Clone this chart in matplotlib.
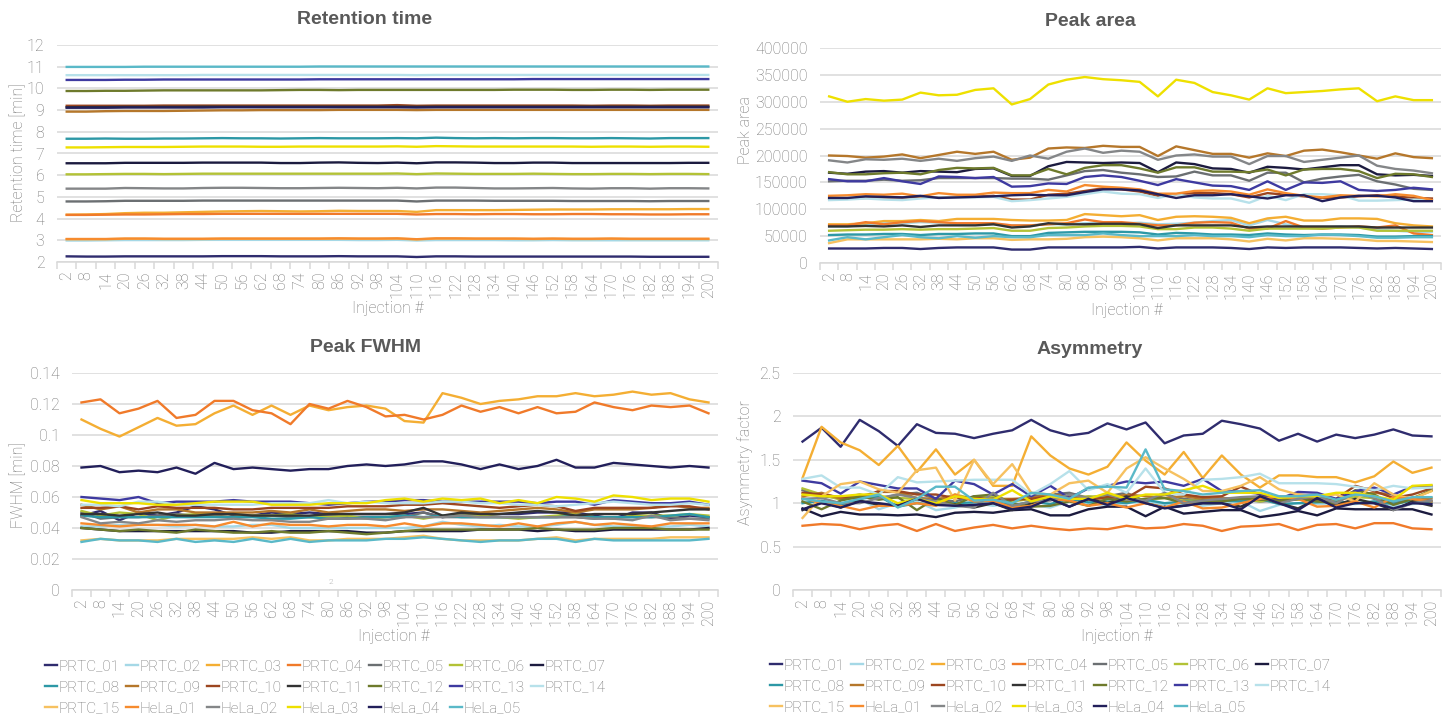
import matplotlib
matplotlib.use('Agg')
import matplotlib.pyplot as plt
from matplotlib.ticker import FuncFormatter, MultipleLocator

plt.rcParams['font.family'] = ['Roboto', 'Liberation Sans', 'DejaVu Sans']
plt.rcParams['font.weight'] = 'light'

injections = [2, 8, 14, 20, 26, 32, 38, 44, 50, 56, 62, 68, 74, 80, 86, 92, 98,
              104, 110, 116, 122, 128, 134, 140, 146, 152, 158, 164, 170, 176,
              182, 188, 194, 200]

names = ['PRTC_01', 'PRTC_02', 'PRTC_03', 'PRTC_04', 'PRTC_05', 'PRTC_06',
         'PRTC_07', 'PRTC_08', 'PRTC_09', 'PRTC_10', 'PRTC_11', 'PRTC_12',
         'PRTC_13', 'PRTC_14', 'PRTC_15', 'HeLa_01', 'HeLa_02', 'HeLa_03',
         'HeLa_04', 'HeLa_05']

colors = ['#2F2C6E', '#A5D8E6', '#F4AE33', '#F07A2A', '#6B6F72', '#B3C236',
          '#1C1B3F', '#2D98A6', '#B5772B', '#9C4620', '#333333', '#6E7A2C',
          '#3E3AA0', '#B7E1EA', '#F6C160', '#F68B2E', '#848688', '#EEE000',
          '#221F5A', '#5AB9C8']

# retention time [min]
rt = {
    'PRTC_01': [2.26, 2.25, 2.25, 2.26, 2.26, 2.26, 2.26, 2.26, 2.27, 2.27, 2.27, 2.26, 2.26, 2.26, 2.27, 2.26, 2.26,
                2.26, 2.23, 2.26, 2.26, 2.25, 2.25, 2.25, 2.25, 2.25, 2.25, 2.25, 2.25, 2.25, 2.24, 2.24, 2.24, 2.24],
    'PRTC_02': [2.99, 2.99, 3.00, 3.01, 3.01, 3.01, 3.01, 3.02, 3.02, 3.02, 3.02, 3.02, 3.02, 3.02, 3.02, 3.01, 3.01,
                3.02, 2.99, 3.01, 3.01, 3.01, 3.01, 3.00, 3.00, 3.01, 3.00, 3.00, 3.00, 3.00, 3.00, 3.00, 3.00, 3.00],
    'PRTC_03': [4.18, 4.19, 4.21, 4.25, 4.27, 4.27, 4.29, 4.31, 4.33, 4.34, 4.35, 4.34, 4.33, 4.34, 4.36, 4.35, 4.35,
                4.35, 4.31, 4.39, 4.39, 4.39, 4.39, 4.40, 4.41, 4.42, 4.42, 4.42, 4.43, 4.43, 4.43, 4.43, 4.44, 4.44],
    'PRTC_04': [4.17, 4.17, 4.18, 4.19, 4.19, 4.20, 4.21, 4.21, 4.22, 4.22, 4.22, 4.22, 4.22, 4.22, 4.22, 4.22, 4.22,
                4.22, 4.19, 4.21, 4.21, 4.20, 4.21, 4.21, 4.20, 4.20, 4.21, 4.21, 4.20, 4.20, 4.19, 4.19, 4.20, 4.20],
    'PRTC_05': [4.79, 4.79, 4.80, 4.82, 4.82, 4.82, 4.82, 4.83, 4.83, 4.83, 4.83, 4.83, 4.83, 4.83, 4.83, 4.83, 4.83,
                4.83, 4.79, 4.83, 4.83, 4.83, 4.82, 4.82, 4.82, 4.82, 4.81, 4.81, 4.81, 4.81, 4.80, 4.81, 4.81, 4.81],
    'PRTC_06': [6.04, 6.04, 6.05, 6.06, 6.06, 6.05, 6.06, 6.07, 6.07, 6.07, 6.07, 6.07, 6.07, 6.07, 6.07, 6.07, 6.07,
                6.08, 6.05, 6.08, 6.07, 6.06, 6.06, 6.06, 6.07, 6.06, 6.05, 6.05, 6.06, 6.06, 6.05, 6.06, 6.06, 6.05],
    'PRTC_07': [6.55, 6.55, 6.55, 6.57, 6.57, 6.57, 6.57, 6.58, 6.58, 6.58, 6.58, 6.56, 6.56, 6.58, 6.59, 6.57, 6.56,
                6.58, 6.55, 6.59, 6.59, 6.58, 6.56, 6.56, 6.58, 6.58, 6.56, 6.56, 6.56, 6.56, 6.56, 6.56, 6.57, 6.57],
    'PRTC_08': [7.68, 7.68, 7.69, 7.68, 7.68, 7.69, 7.69, 7.70, 7.71, 7.70, 7.70, 7.69, 7.70, 7.71, 7.70, 7.70, 7.70,
                7.71, 7.70, 7.73, 7.71, 7.70, 7.71, 7.70, 7.71, 7.71, 7.70, 7.70, 7.71, 7.70, 7.69, 7.71, 7.71, 7.71],
    'PRTC_09': [8.93, 8.93, 8.95, 8.96, 8.96, 8.96, 8.97, 8.98, 8.99, 8.99, 9.00, 9.00, 9.00, 9.00, 9.01, 9.01, 9.01,
                9.01, 9.00, 9.01, 9.01, 9.01, 9.01, 9.01, 9.01, 9.01, 9.01, 9.01, 9.01, 9.01, 9.01, 9.01, 9.01, 9.01],
    'PRTC_10': [9.20, 9.20, 9.20, 9.20, 9.20, 9.21, 9.21, 9.21, 9.21, 9.21, 9.21, 9.21, 9.21, 9.21, 9.21, 9.21, 9.21,
                9.23, 9.20, 9.21, 9.21, 9.21, 9.21, 9.21, 9.21, 9.21, 9.21, 9.20, 9.21, 9.21, 9.20, 9.21, 9.21, 9.21],
    'PRTC_11': [9.13, 9.14, 9.14, 9.15, 9.15, 9.15, 9.15, 9.16, 9.16, 9.16, 9.16, 9.16, 9.16, 9.16, 9.16, 9.16, 9.16,
                9.16, 9.15, 9.16, 9.16, 9.16, 9.16, 9.16, 9.16, 9.16, 9.16, 9.16, 9.16, 9.16, 9.16, 9.16, 9.16, 9.16],
    'PRTC_12': [9.88, 9.88, 9.89, 9.89, 9.90, 9.91, 9.91, 9.91, 9.91, 9.91, 9.91, 9.92, 9.93, 9.93, 9.92, 9.93, 9.93,
                9.93, 9.93, 9.93, 9.93, 9.93, 9.93, 9.94, 9.94, 9.94, 9.93, 9.93, 9.94, 9.94, 9.93, 9.94, 9.94, 9.94],
    'PRTC_13': [10.39, 10.39, 10.39, 10.40, 10.40, 10.41, 10.41, 10.41, 10.41, 10.41, 10.41, 10.41, 10.41, 10.42,
                10.42, 10.42, 10.42, 10.42, 10.42, 10.42, 10.42, 10.42, 10.42, 10.42, 10.43, 10.43, 10.43, 10.43,
                10.43, 10.43, 10.43, 10.43, 10.43, 10.43],
    'PRTC_14': [10.61, 10.61, 10.61, 10.61, 10.61, 10.61, 10.61, 10.62, 10.62, 10.62, 10.62, 10.62, 10.62, 10.62,
                10.62, 10.62, 10.62, 10.62, 10.61, 10.62, 10.62, 10.62, 10.62, 10.62, 10.62, 10.62, 10.62, 10.62,
                10.62, 10.62, 10.62, 10.62, 10.62, 10.62],
    'PRTC_15': [3.05, 3.05, 3.05, 3.07, 3.07, 3.06, 3.06, 3.06, 3.07, 3.07, 3.07, 3.07, 3.07, 3.07, 3.08, 3.07, 3.07,
                3.08, 3.04, 3.08, 3.08, 3.07, 3.07, 3.07, 3.06, 3.07, 3.06, 3.06, 3.07, 3.06, 3.06, 3.06, 3.06, 3.06],
    'HeLa_01': [3.06, 3.06, 3.06, 3.08, 3.08, 3.07, 3.07, 3.07, 3.08, 3.08, 3.08, 3.08, 3.08, 3.08, 3.09, 3.08, 3.08,
                3.09, 3.05, 3.09, 3.09, 3.08, 3.08, 3.08, 3.07, 3.08, 3.07, 3.07, 3.08, 3.07, 3.07, 3.07, 3.07, 3.07],
    'HeLa_02': [5.38, 5.38, 5.38, 5.41, 5.40, 5.39, 5.39, 5.41, 5.42, 5.42, 5.41, 5.40, 5.40, 5.41, 5.42, 5.41, 5.40,
                5.42, 5.39, 5.43, 5.43, 5.41, 5.39, 5.39, 5.40, 5.41, 5.39, 5.38, 5.40, 5.40, 5.38, 5.40, 5.40, 5.39],
    'HeLa_03': [7.28, 7.28, 7.29, 7.30, 7.30, 7.30, 7.31, 7.32, 7.32, 7.32, 7.31, 7.31, 7.32, 7.32, 7.32, 7.32, 7.32,
                7.33, 7.31, 7.34, 7.33, 7.32, 7.32, 7.32, 7.32, 7.32, 7.32, 7.31, 7.32, 7.32, 7.31, 7.32, 7.32, 7.31],
    'HeLa_04': [9.11, 9.11, 9.11, 9.12, 9.12, 9.12, 9.12, 9.12, 9.13, 9.13, 9.13, 9.13, 9.13, 9.13, 9.13, 9.13, 9.13,
                9.13, 9.12, 9.13, 9.13, 9.13, 9.13, 9.13, 9.13, 9.13, 9.13, 9.13, 9.13, 9.13, 9.13, 9.13, 9.13, 9.13],
    'HeLa_05': [10.99, 10.99, 10.99, 10.99, 11.00, 11.00, 11.00, 11.00, 11.00, 11.00, 11.00, 11.00, 11.00, 11.01,
                11.01, 11.01, 11.01, 11.01, 11.01, 11.01, 11.01, 11.01, 11.01, 11.01, 11.01, 11.01, 11.01, 11.01,
                11.01, 11.01, 11.01, 11.01, 11.01, 11.01],
}

# peak area
area = {
    'PRTC_01': [27000, 27000, 27000, 28000, 28000, 26000, 28000, 29000, 29000, 29000, 25000, 25000, 29000, 29000,
                29000, 29000, 29000, 30000, 27000, 29000, 29000, 29000, 28000, 26000, 29000, 28000, 29000, 29000,
                29000, 28000, 27000, 28000, 27000, 26000],
    'PRTC_02': [68000, 68000, 72000, 74000, 74000, 76000, 75000, 72000, 72000, 72000, 70000, 70000, 72000, 72000,
                74000, 74000, 74000, 75000, 72000, 73000, 75000, 78000, 80000, 70000, 80000, 72000, 66000, 66000,
                68000, 66000, 62000, 60000, 58000, 58000],
    'PRTC_03': [72000, 72000, 74000, 78000, 78000, 80000, 78000, 82000, 82000, 82000, 80000, 79000, 79000, 80000,
                91000, 89000, 87000, 89000, 80000, 86000, 87000, 86000, 84000, 74000, 83000, 86000, 79000, 79000,
                83000, 83000, 82000, 74000, 70000, 68000],
    'PRTC_04': [70000, 70000, 76000, 72000, 76000, 78000, 76000, 74000, 74000, 74000, 70000, 70000, 72000, 74000,
                81000, 76000, 76000, 73000, 70000, 70000, 75000, 76000, 75000, 64000, 64000, 78000, 66000, 64000,
                66000, 68000, 66000, 70000, 55000, 52000],
    'PRTC_05': [152000, 153000, 153000, 155000, 153000, 154000, 158000, 158000, 158000, 158000, 157000, 157000,
                155000, 163000, 171000, 173000, 168000, 165000, 160000, 161000, 170000, 163000, 163000, 153000,
                168000, 168000, 150000, 157000, 161000, 164000, 152000, 146000, 138000, 136000],
    'PRTC_06': [60000, 61000, 62000, 62000, 63000, 62000, 63000, 63000, 64000, 65000, 60000, 60000, 65000, 66000,
                68000, 69000, 69000, 68000, 63000, 63000, 66000, 66000, 64000, 60000, 64000, 64000, 64000, 64000,
                66000, 66000, 60000, 60000, 60000, 60000],
    'PRTC_07': [168000, 166000, 170000, 171000, 168000, 171000, 170000, 169000, 175000, 176000, 162000, 162000,
                180000, 188000, 187000, 186000, 187000, 186000, 169000, 187000, 184000, 176000, 175000, 168000,
                179000, 177000, 174000, 178000, 182000, 182000, 165000, 163000, 164000, 162000],
    'PRTC_08': [52000, 53000, 53000, 54000, 54000, 52000, 54000, 54000, 55000, 55000, 50000, 50000, 56000, 57000,
                58000, 58000, 58000, 57000, 53000, 56000, 55000, 53000, 53000, 52000, 55000, 53000, 52000, 53000,
                53000, 52000, 49000, 49000, 50000, 50000],
    'PRTC_09': [200000, 199000, 196000, 198000, 202000, 195000, 201000, 207000, 203000, 207000, 192000, 196000,
                213000, 215000, 214000, 218000, 216000, 216000, 199000, 217000, 210000, 203000, 203000, 196000,
                204000, 199000, 209000, 211000, 206000, 200000, 194000, 204000, 197000, 195000],
    'PRTC_10': [120000, 120000, 121000, 122000, 122000, 122000, 122000, 123000, 123000, 125000, 118000, 118000,
                127000, 129000, 134000, 139000, 137000, 133000, 125000, 128000, 130000, 130000, 128000, 122000,
                130000, 127000, 124000, 121000, 122000, 124000, 126000, 124000, 121000, 120000],
    'PRTC_11': [68000, 68000, 69000, 68000, 70000, 67000, 70000, 70000, 70000, 72000, 66000, 68000, 74000, 72000,
                72000, 73000, 73000, 72000, 65000, 70000, 70000, 70000, 70000, 66000, 68000, 68000, 68000, 68000,
                68000, 68000, 66000, 66000, 66000, 66000],
    'PRTC_12': [169000, 165000, 165000, 167000, 168000, 165000, 173000, 177000, 176000, 177000, 163000, 163000,
                175000, 165000, 177000, 182000, 182000, 176000, 168000, 178000, 178000, 170000, 170000, 169000,
                174000, 163000, 174000, 175000, 175000, 171000, 158000, 166000, 165000, 160000],
    'PRTC_13': [156000, 152000, 152000, 158000, 152000, 147000, 161000, 160000, 158000, 160000, 142000, 143000,
                148000, 147000, 160000, 163000, 160000, 153000, 145000, 156000, 150000, 144000, 143000, 136000,
                152000, 136000, 150000, 149000, 152000, 136000, 134000, 136000, 140000, 137000],
    'PRTC_14': [117000, 118000, 120000, 118000, 117000, 120000, 122000, 122000, 122000, 123000, 115000, 117000,
                120000, 123000, 128000, 133000, 129000, 128000, 121000, 128000, 122000, 120000, 120000, 112000,
                125000, 117000, 128000, 128000, 126000, 116000, 116000, 117000, 118000, 117000],
    'PRTC_15': [37000, 44000, 44000, 44000, 44000, 44000, 45000, 44000, 46000, 46000, 43000, 44000, 44000, 45000,
                48000, 49000, 48000, 46000, 42000, 46000, 46000, 46000, 44000, 40000, 45000, 42000, 46000, 46000,
                45000, 44000, 41000, 41000, 40000, 39000],
    'HeLa_01': [125000, 126000, 128000, 127000, 129000, 124000, 130000, 127000, 127000, 131000, 130000, 130000,
                136000, 133000, 145000, 142000, 140000, 137000, 129000, 129000, 134000, 135000, 133000, 127000,
                137000, 130000, 125000, 122000, 126000, 125000, 124000, 128000, 125000, 117000],
    'HeLa_02': [191000, 187000, 193000, 192000, 194000, 190000, 194000, 190000, 195000, 198000, 190000, 200000,
                194000, 207000, 213000, 205000, 209000, 207000, 192000, 200000, 202000, 198000, 198000, 184000,
                199000, 199000, 188000, 192000, 196000, 200000, 181000, 175000, 172000, 167000],
    'HeLa_03': [310000, 300000, 305000, 302000, 304000, 317000, 312000, 313000, 322000, 325000, 295000, 305000,
                332000, 341000, 346000, 342000, 340000, 337000, 310000, 341000, 335000, 318000, 312000, 304000,
                325000, 316000, 318000, 320000, 323000, 325000, 301000, 310000, 303000, 303000],
    'HeLa_04': [121000, 121000, 124000, 123000, 122000, 125000, 121000, 122000, 123000, 124000, 126000, 127000,
                126000, 126000, 132000, 137000, 137000, 135000, 128000, 121000, 126000, 126000, 128000, 124000,
                120000, 126000, 126000, 115000, 122000, 125000, 125000, 122000, 115000, 115000],
    'HeLa_05': [42000, 48000, 44000, 48000, 52000, 48000, 46000, 50000, 47000, 50000, 48000, 48000, 52000, 52000,
                52000, 55000, 52000, 50000, 50000, 50000, 52000, 50000, 50000, 48000, 52000, 50000, 50000, 53000,
                52000, 50000, 47000, 47000, 48000, 48000],
}

# peak FWHM [min]
fwhm = {
    'PRTC_01': [0.048, 0.051, 0.045, 0.050, 0.048, 0.050, 0.054, 0.052, 0.048, 0.048, 0.050, 0.049, 0.050, 0.049,
                0.049, 0.049, 0.049, 0.049, 0.050, 0.047, 0.049, 0.048, 0.049, 0.049, 0.050, 0.050, 0.050, 0.048,
                0.046, 0.050, 0.050, 0.046, 0.048, 0.047],
    'PRTC_02': [0.041, 0.041, 0.042, 0.042, 0.042, 0.041, 0.042, 0.041, 0.041, 0.042, 0.042, 0.040, 0.040, 0.040,
                0.040, 0.040, 0.040, 0.040, 0.041, 0.044, 0.042, 0.041, 0.042, 0.041, 0.041, 0.042, 0.044, 0.042,
                0.041, 0.041, 0.041, 0.041, 0.042, 0.041],
    'PRTC_03': [0.110, 0.104, 0.099, 0.105, 0.111, 0.106, 0.107, 0.114, 0.119, 0.113, 0.119, 0.113, 0.119, 0.116,
                0.118, 0.119, 0.117, 0.109, 0.108, 0.127, 0.124, 0.120, 0.122, 0.123, 0.125, 0.125, 0.127, 0.125,
                0.126, 0.128, 0.126, 0.127, 0.123, 0.121],
    'PRTC_04': [0.121, 0.123, 0.114, 0.117, 0.122, 0.111, 0.113, 0.122, 0.122, 0.116, 0.114, 0.107, 0.120, 0.117,
                0.122, 0.118, 0.112, 0.113, 0.110, 0.113, 0.119, 0.115, 0.118, 0.114, 0.118, 0.114, 0.115, 0.121,
                0.118, 0.116, 0.119, 0.118, 0.119, 0.114],
    'PRTC_05': [0.050, 0.046, 0.047, 0.047, 0.048, 0.049, 0.048, 0.048, 0.047, 0.048, 0.048, 0.047, 0.047, 0.048,
                0.047, 0.047, 0.047, 0.047, 0.050, 0.047, 0.047, 0.047, 0.047, 0.047, 0.047, 0.047, 0.047, 0.046,
                0.047, 0.047, 0.047, 0.047, 0.046, 0.046],
    'PRTC_06': [0.051, 0.048, 0.050, 0.049, 0.045, 0.048, 0.049, 0.049, 0.049, 0.048, 0.048, 0.049, 0.047, 0.047,
                0.048, 0.046, 0.047, 0.048, 0.046, 0.048, 0.048, 0.048, 0.047, 0.046, 0.047, 0.048, 0.049, 0.047,
                0.046, 0.048, 0.048, 0.048, 0.049, 0.048],
    'PRTC_07': [0.040, 0.039, 0.038, 0.038, 0.038, 0.038, 0.038, 0.038, 0.038, 0.037, 0.037, 0.038, 0.038, 0.038,
                0.038, 0.037, 0.037, 0.038, 0.038, 0.038, 0.038, 0.039, 0.039, 0.039, 0.038, 0.039, 0.038, 0.038,
                0.039, 0.039, 0.039, 0.039, 0.039, 0.040],
    'PRTC_08': [0.048, 0.047, 0.047, 0.047, 0.047, 0.047, 0.047, 0.047, 0.047, 0.047, 0.046, 0.046, 0.047, 0.046,
                0.046, 0.047, 0.047, 0.048, 0.047, 0.048, 0.047, 0.047, 0.047, 0.047, 0.047, 0.047, 0.048, 0.047,
                0.047, 0.047, 0.047, 0.048, 0.049, 0.047],
    'PRTC_09': [0.055, 0.052, 0.054, 0.050, 0.052, 0.052, 0.050, 0.050, 0.050, 0.050, 0.051, 0.050, 0.052, 0.050,
                0.051, 0.052, 0.052, 0.051, 0.052, 0.052, 0.051, 0.050, 0.051, 0.052, 0.053, 0.052, 0.050, 0.052,
                0.052, 0.052, 0.053, 0.055, 0.053, 0.053],
    'PRTC_10': [0.053, 0.053, 0.054, 0.052, 0.054, 0.053, 0.053, 0.053, 0.052, 0.052, 0.053, 0.053, 0.053, 0.053,
                0.054, 0.054, 0.054, 0.055, 0.055, 0.056, 0.055, 0.054, 0.053, 0.054, 0.055, 0.054, 0.051, 0.053,
                0.053, 0.053, 0.053, 0.054, 0.054, 0.052],
    'PRTC_11': [0.049, 0.049, 0.048, 0.049, 0.050, 0.048, 0.048, 0.049, 0.049, 0.048, 0.048, 0.048, 0.048, 0.049,
                0.049, 0.049, 0.049, 0.050, 0.053, 0.048, 0.050, 0.049, 0.049, 0.050, 0.051, 0.050, 0.048, 0.049,
                0.049, 0.049, 0.050, 0.051, 0.052, 0.052],
    'PRTC_12': [0.040, 0.039, 0.038, 0.039, 0.038, 0.037, 0.039, 0.038, 0.037, 0.037, 0.038, 0.037, 0.037, 0.038,
                0.037, 0.036, 0.037, 0.038, 0.039, 0.039, 0.039, 0.039, 0.039, 0.039, 0.040, 0.039, 0.039, 0.039,
                0.040, 0.040, 0.040, 0.039, 0.039, 0.039],
    'PRTC_13': [0.060, 0.059, 0.058, 0.060, 0.056, 0.057, 0.057, 0.057, 0.058, 0.057, 0.057, 0.057, 0.056, 0.055,
                0.056, 0.057, 0.057, 0.058, 0.058, 0.057, 0.057, 0.057, 0.057, 0.057, 0.056, 0.057, 0.057, 0.055,
                0.058, 0.057, 0.056, 0.056, 0.057, 0.055],
    'PRTC_14': [0.055, 0.055, 0.054, 0.057, 0.057, 0.055, 0.055, 0.055, 0.055, 0.055, 0.056, 0.056, 0.056, 0.058,
                0.056, 0.057, 0.056, 0.056, 0.056, 0.057, 0.057, 0.056, 0.056, 0.055, 0.055, 0.054, 0.055, 0.056,
                0.057, 0.056, 0.055, 0.055, 0.056, 0.055],
    'PRTC_15': [0.032, 0.033, 0.032, 0.032, 0.032, 0.033, 0.033, 0.033, 0.033, 0.034, 0.033, 0.034, 0.032, 0.032,
                0.033, 0.033, 0.033, 0.034, 0.035, 0.033, 0.032, 0.032, 0.032, 0.032, 0.033, 0.034, 0.032, 0.033,
                0.033, 0.033, 0.033, 0.034, 0.034, 0.034],
    'HeLa_01': [0.043, 0.042, 0.041, 0.042, 0.042, 0.042, 0.042, 0.041, 0.044, 0.041, 0.043, 0.042, 0.042, 0.041,
                0.042, 0.042, 0.041, 0.043, 0.041, 0.043, 0.043, 0.042, 0.041, 0.043, 0.041, 0.043, 0.044, 0.042,
                0.043, 0.042, 0.041, 0.043, 0.043, 0.043],
    'HeLa_02': [0.047, 0.043, 0.044, 0.043, 0.045, 0.044, 0.045, 0.045, 0.046, 0.045, 0.045, 0.044, 0.044, 0.046,
                0.046, 0.046, 0.045, 0.047, 0.047, 0.047, 0.048, 0.047, 0.047, 0.047, 0.047, 0.047, 0.047, 0.046,
                0.046, 0.045, 0.048, 0.045, 0.046, 0.045],
    'HeLa_03': [0.058, 0.056, 0.056, 0.056, 0.055, 0.055, 0.056, 0.057, 0.057, 0.057, 0.055, 0.055, 0.055, 0.056,
                0.056, 0.056, 0.058, 0.059, 0.057, 0.059, 0.058, 0.059, 0.056, 0.058, 0.056, 0.060, 0.059, 0.057,
                0.061, 0.060, 0.058, 0.059, 0.059, 0.057],
    'HeLa_04': [0.079, 0.080, 0.076, 0.077, 0.076, 0.079, 0.075, 0.082, 0.078, 0.079, 0.078, 0.077, 0.078, 0.078,
                0.080, 0.081, 0.080, 0.081, 0.083, 0.083, 0.081, 0.078, 0.081, 0.078, 0.080, 0.084, 0.079, 0.079,
                0.082, 0.081, 0.080, 0.079, 0.080, 0.079],
    'HeLa_05': [0.031, 0.033, 0.032, 0.032, 0.031, 0.033, 0.031, 0.032, 0.031, 0.033, 0.031, 0.033, 0.031, 0.032,
                0.032, 0.032, 0.033, 0.033, 0.034, 0.033, 0.032, 0.031, 0.032, 0.032, 0.033, 0.033, 0.031, 0.033,
                0.032, 0.032, 0.032, 0.032, 0.032, 0.033],
}

# asymmetry factor
asym = {
    'PRTC_01': [1.71, 1.87, 1.65, 1.96, 1.83, 1.66, 1.91, 1.81, 1.80, 1.75, 1.80, 1.84, 1.96, 1.84, 1.78, 1.81, 1.92,
                1.85, 1.93, 1.69, 1.78, 1.80, 1.95, 1.91, 1.86, 1.72, 1.80, 1.71, 1.79, 1.75, 1.79, 1.85, 1.78, 1.77],
    'PRTC_02': [1.02, 1.00, 0.97, 1.05, 0.93, 1.00, 1.02, 0.92, 0.95, 1.00, 0.97, 1.00, 0.98, 0.95, 1.02, 1.00, 0.98,
                1.00, 1.02, 0.98, 0.99, 0.97, 1.00, 1.02, 0.91, 0.98, 1.00, 0.99, 1.00, 0.99, 1.02, 0.96, 0.99, 1.02],
    'PRTC_03': [1.29, 1.88, 1.70, 1.61, 1.44, 1.66, 1.36, 1.62, 1.33, 1.50, 1.20, 1.20, 1.77, 1.55, 1.40, 1.33, 1.42,
                1.70, 1.49, 1.33, 1.59, 1.29, 1.55, 1.33, 1.18, 1.32, 1.32, 1.30, 1.30, 1.24, 1.31, 1.48, 1.35, 1.41],
    'PRTC_04': [0.74, 0.76, 0.75, 0.70, 0.74, 0.76, 0.68, 0.76, 0.68, 0.72, 0.75, 0.71, 0.74, 0.71, 0.69, 0.71, 0.70,
                0.74, 0.71, 0.72, 0.76, 0.74, 0.68, 0.73, 0.74, 0.76, 0.69, 0.75, 0.76, 0.71, 0.77, 0.77, 0.71, 0.70],
    'PRTC_05': [1.15, 1.08, 1.06, 1.10, 1.05, 1.10, 1.12, 1.05, 1.02, 1.08, 1.06, 1.03, 1.08, 1.10, 1.12, 1.06, 1.08,
                1.12, 1.02, 1.10, 1.05, 1.03, 1.06, 1.04, 1.02, 1.03, 1.05, 1.10, 1.04, 1.12, 1.05, 1.00, 1.05, 1.03],
    'PRTC_06': [1.17, 1.10, 1.04, 1.06, 1.08, 1.06, 1.05, 1.03, 1.10, 1.05, 1.08, 1.02, 1.05, 1.04, 1.06, 1.08, 1.07,
                1.05, 1.04, 1.06, 1.03, 1.03, 1.04, 1.06, 1.02, 1.05, 1.04, 1.06, 1.04, 1.07, 1.06, 1.04, 1.06, 1.14],
    'PRTC_07': [0.94, 0.85, 0.90, 0.87, 0.87, 0.86, 0.87, 0.84, 0.89, 0.90, 0.89, 0.92, 0.93, 0.86, 0.86, 0.93, 0.96,
                0.96, 0.85, 0.96, 0.88, 0.90, 0.92, 0.92, 0.84, 0.87, 0.91, 0.86, 0.94, 0.93, 0.93, 0.93, 0.93, 0.87],
    'PRTC_08': [1.00, 1.03, 0.98, 1.05, 1.08, 0.96, 1.00, 0.98, 1.00, 1.01, 1.03, 0.97, 1.02, 0.99, 1.05, 1.01, 1.02,
                1.00, 1.04, 1.00, 1.02, 1.01, 1.03, 1.02, 1.05, 0.99, 1.00, 1.01, 1.02, 1.00, 1.02, 0.99, 1.03, 1.01],
    'PRTC_09': [1.08, 1.12, 1.05, 1.08, 1.13, 1.13, 1.06, 1.05, 1.07, 1.05, 1.05, 1.05, 1.06, 1.10, 1.08, 1.06, 1.05,
                1.10, 1.08, 1.06, 1.08, 1.05, 1.06, 1.05, 1.06, 1.04, 1.10, 1.08, 1.04, 1.10, 1.12, 1.10, 1.03, 1.06],
    'PRTC_10': [1.12, 1.10, 1.07, 1.06, 1.14, 1.14, 1.10, 1.10, 1.06, 1.07, 1.03, 1.04, 1.05, 1.08, 1.06, 1.04, 1.07,
                1.06, 1.19, 1.17, 1.10, 1.07, 1.08, 1.19, 1.10, 1.02, 1.05, 1.04, 1.05, 1.20, 1.14, 1.06, 1.10, 1.17],
    'PRTC_11': [0.92, 1.02, 0.95, 1.03, 0.98, 0.98, 1.05, 1.00, 0.99, 0.95, 1.00, 0.92, 1.00, 1.05, 0.96, 1.05, 1.00,
                1.08, 1.00, 0.95, 0.97, 1.00, 1.00, 0.96, 1.07, 1.00, 0.94, 1.05, 0.98, 1.05, 1.00, 0.92, 1.02, 0.97],
    'PRTC_12': [1.02, 0.93, 1.03, 1.08, 1.04, 1.07, 0.92, 1.06, 0.98, 1.08, 1.10, 1.00, 0.96, 0.97, 1.02, 0.97, 1.05,
                1.02, 1.05, 1.06, 1.00, 1.03, 1.02, 1.05, 1.04, 1.03, 1.05, 1.02, 1.00, 1.15, 1.10, 0.98, 1.05, 1.15],
    'PRTC_13': [1.26, 1.23, 1.11, 1.25, 1.21, 1.17, 1.17, 1.05, 1.26, 1.22, 1.10, 1.22, 1.08, 1.20, 1.06, 1.17, 1.20,
                1.25, 1.23, 1.25, 1.20, 1.28, 1.14, 1.13, 1.11, 1.05, 1.13, 1.12, 1.05, 1.14, 1.18, 1.10, 1.19, 1.20],
    'PRTC_14': [1.28, 1.32, 1.18, 1.18, 1.10, 1.30, 1.24, 1.25, 1.26, 1.27, 1.27, 1.27, 1.10, 1.22, 1.37, 1.15, 1.22,
                1.12, 1.40, 1.12, 1.10, 1.27, 1.28, 1.30, 1.34, 1.23, 1.23, 1.23, 1.22, 1.19, 1.15, 1.20, 1.17, 1.18],
    'PRTC_15': [0.83, 1.08, 1.22, 1.25, 1.16, 1.12, 1.38, 1.41, 1.03, 1.50, 1.22, 1.45, 1.12, 1.10, 1.23, 1.26, 1.12,
                1.40, 1.53, 1.40, 1.28, 1.14, 1.14, 1.20, 1.30, 1.16, 1.10, 1.08, 1.10, 1.02, 1.23, 1.10, 1.05, 1.14],
    'HeLa_01': [1.06, 1.00, 0.97, 0.92, 0.97, 0.97, 1.00, 0.97, 1.10, 1.02, 1.03, 0.95, 0.97, 1.05, 1.03, 0.97, 1.00,
                0.95, 1.00, 0.95, 1.02, 0.94, 0.95, 1.00, 1.05, 1.08, 1.05, 0.96, 0.97, 1.02, 0.95, 1.07, 1.05, 1.02],
    'HeLa_02': [1.05, 1.06, 1.00, 1.00, 1.06, 1.10, 1.06, 1.02, 0.97, 0.95, 1.12, 0.97, 1.02, 1.03, 1.10, 1.06, 1.10,
                1.04, 1.03, 1.12, 1.00, 1.03, 1.05, 1.07, 1.08, 1.00, 1.05, 1.08, 1.00, 1.12, 1.06, 0.92, 1.00, 1.03],
    'HeLa_03': [1.10, 1.08, 1.08, 1.10, 1.10, 1.00, 1.05, 1.00, 1.08, 1.05, 1.04, 1.15, 1.02, 1.08, 1.05, 1.05, 1.12,
                1.05, 1.10, 1.10, 1.15, 1.20, 1.12, 1.12, 1.12, 1.06, 1.08, 1.08, 1.12, 1.12, 1.08, 1.04, 1.20, 1.21],
    'HeLa_04': [0.93, 1.00, 0.95, 1.02, 1.00, 0.97, 1.05, 0.98, 0.97, 0.98, 1.00, 0.93, 0.96, 1.05, 0.96, 1.05, 0.98,
                1.06, 1.00, 0.94, 0.97, 1.00, 1.00, 0.93, 1.08, 1.00, 0.92, 1.06, 0.95, 1.00, 1.00, 0.94, 1.00, 0.99],
    'HeLa_05': [1.05, 1.02, 1.00, 1.05, 1.10, 0.95, 1.05, 1.19, 1.19, 1.03, 1.04, 1.00, 1.12, 1.10, 1.05, 1.18, 1.19,
                1.18, 1.62, 1.16, 1.14, 1.10, 1.12, 1.14, 1.15, 1.08, 1.08, 1.10, 1.04, 1.10, 1.08, 1.02, 1.07, 1.07],
}

W, H = 1445, 717
GRID = '#D9D9D9'
TXT = '#747474'
TITLE = '#595959'
TITLE_FONT = ['Liberation Sans', 'DejaVu Sans']

fig = plt.figure(figsize=(W / 100, H / 100), dpi=100)


def px_axes(x0, x1, y_top, y_bot):
    return fig.add_axes([x0 / W, 1 - y_bot / H, (x1 - x0) / W, (y_bot - y_top) / H])


def fig_text(x, y, s, **kw):
    fig.text(x / W, 1 - y / H, s, ha='center', va='center', **kw)


def title(x, y, s):
    fig_text(x, y, s, fontsize=14, color=TITLE, fontweight='bold', family=TITLE_FONT)


def draw_panel(ax, data, ymin, ymax, step, fmt):
    xs = range(len(injections))
    for name, c in zip(names, colors):
        ax.plot(xs, data[name], color=c, lw=1.7, solid_joinstyle='round')
    ax.set_xlim(-0.5, len(injections) - 0.5)
    ax.set_ylim(ymin, ymax)
    ax.yaxis.set_major_locator(MultipleLocator(step))
    ax.yaxis.set_major_formatter(FuncFormatter(fmt))
    ax.set_xticks(list(xs))
    ax.set_xticklabels([str(v) for v in injections], rotation=90)
    ax.set_xticks([i - 0.5 for i in range(len(injections) + 1)], minor=True)
    ax.grid(axis='y', color=GRID, lw=1.1)
    ax.set_axisbelow(True)
    for s in ['top', 'right', 'left']:
        ax.spines[s].set_visible(False)
    ax.spines['bottom'].set_color(GRID)
    ax.spines['bottom'].set_linewidth(1.1)
    ax.tick_params(axis='x', which='major', length=0, pad=7, labelsize=11.5, labelcolor=TXT)
    ax.tick_params(axis='x', which='minor', length=5, color=GRID, width=1.1)
    ax.tick_params(axis='y', length=0, pad=9, labelsize=11.5, labelcolor=TXT)
    ax.set_facecolor('none')


def add_legend(ax, x, y):
    handles = ax.get_lines()
    # row-wise order for a 7-column legend
    order = [0, 7, 14, 1, 8, 15, 2, 9, 16, 3, 10, 17, 4, 11, 18, 5, 12, 19, 6, 13]
    leg = fig.legend([handles[i] for i in order], [names[i] for i in order],
                     loc='upper left', bbox_to_anchor=(x / W, 1 - y / H), ncol=7,
                     frameon=False, fontsize=11, handlelength=0.8, handletextpad=0.1,
                     columnspacing=0.4, labelspacing=0.48, borderaxespad=0, borderpad=0)
    for t in leg.get_texts():
        t.set_color(TXT)


ax1 = px_axes(57, 718, 45, 262)
draw_panel(ax1, rt, 2, 12, 1, lambda v, p: '%g' % v)
title(365, 20, 'Retention time')
fig_text(18, 153, 'Retention time [min]', fontsize=11.5, color=TXT, rotation=90)
fig_text(388, 308, 'Injection #', fontsize=11.5, color=TXT)

ax2 = px_axes(820, 1441, 48, 263)
draw_panel(ax2, area, 0, 400000, 50000, lambda v, p: '%d' % v)
title(1090, 22, 'Peak area')
fig_text(745, 130, 'Peak area', fontsize=11.5, color=TXT, rotation=90)
fig_text(1127, 311, 'Injection #', fontsize=11.5, color=TXT)

ax3 = px_axes(72, 718, 373, 590)
draw_panel(ax3, fwhm, 0, 0.14, 0.02, lambda v, p: '%g' % round(v, 2))
title(365, 347, 'Peak FWHM')
fig_text(18, 485, 'FWHM [min]', fontsize=11.5, color=TXT, rotation=90)
fig_text(394, 637, 'Injection #', fontsize=11.5, color=TXT)
fig_text(331, 582, '2', fontsize=6, color=TXT)

ax4 = px_axes(793, 1441, 373, 590)
draw_panel(ax4, asym, 0, 2.5, 0.5, lambda v, p: '%g' % v)
title(1090, 349, 'Asymmetry')
fig_text(745, 463, 'Asymmetry factor', fontsize=11.5, color=TXT, rotation=90)
fig_text(1117, 636, 'Injection #', fontsize=11.5, color=TXT)

add_legend(ax3, 45, 659)
add_legend(ax4, 770, 658)

fig.savefig('out.png', dpi=100, facecolor='white')
